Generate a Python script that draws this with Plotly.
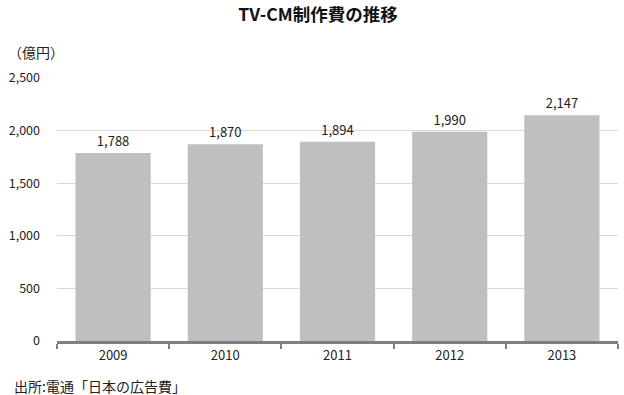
import plotly.graph_objects as go

years = ["2009", "2010", "2011", "2012", "2013"]
values = [1788, 1870, 1894, 1990, 2147]
labels = ["1,788", "1,870", "1,894", "1,990", "2,147"]

FONT = "Noto Sans CJK JP"

fig = go.Figure()
fig.add_trace(go.Bar(
    x=years, y=values, text=labels, textposition="outside",
    textfont=dict(size=13, color="#222222", family=FONT),
    marker=dict(color="#bfbfbf", line=dict(width=0)),
    width=0.67, cliponaxis=False,
))

fig.update_layout(
    width=624, height=395,
    margin=dict(l=57, r=6, t=78, b=54),
    paper_bgcolor="white", plot_bgcolor="white",
    showlegend=False,
    font=dict(family=FONT, size=12, color="#222222"),
    title=dict(text="<b>TV-CM制作費の推移</b>", xref="container", x=318/624, xanchor="center",
               y=1 - 15/395, yanchor="middle", font=dict(size=17.5, color="#111111")),
    xaxis=dict(type="category", showline=True, linecolor="#7f7f7f", linewidth=3,
               ticks="outside", ticklen=5, tickwidth=2, tickcolor="#7f7f7f",
               tickson="boundaries", showgrid=False,
               tickfont=dict(size=13, color="#222222")),
    yaxis=dict(range=[0, 2500], tickvals=[0, 500, 1000, 1500, 2000, 2500],
               ticktext=["0", "500", "1,000", "1,500", "2,000", "2,500"],
               showgrid=True, gridcolor="#d9d9d9", gridwidth=1,
               zeroline=False, showline=False, ticks="", ticklabelstandoff=16,
               tickfont=dict(size=12.5, color="#222222")),
    annotations=[
        dict(text="（億円）", xref="paper", yref="paper", x=-51/561, y=1 + 26/263,
             xanchor="left", yanchor="middle", showarrow=False,
             font=dict(size=14, color="#222222")),
        dict(text="出所:電通「日本の広告費」", xref="paper", yref="paper",
             x=-45/561, y=-45/263, xanchor="left", yanchor="middle", showarrow=False,
             font=dict(size=14, color="#222222")),
    ],
)

fig.write_html("out.html")
